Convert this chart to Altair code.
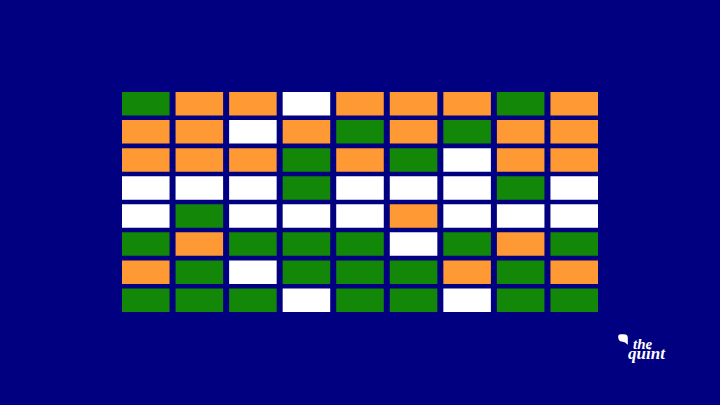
import altair as alt
import pandas as pd

# Grid of colours, row by row (top to bottom), 9 columns each
rows = [
    "G O O W O O O G O",
    "O O W O G O G O O",
    "O O O G O G W O O",
    "W W W G W W W G W",
    "W G W W W O W W W",
    "G O G G G W G O G",
    "O G W G G G O G O",
    "G G G W G G W G G",
]
colour_names = {"G": "green", "O": "saffron", "W": "white"}
colour_hex = ["#138808", "#FF9933", "#FFFFFF"]
colour_domain = ["green", "saffron", "white"]
logo_top = ["the"]
logo_bottom = ["quint"]

records = []
for r, line in enumerate(rows):
    for c, code in enumerate(line.split()):
        records.append({"row": r, "col": c, "colour": colour_names[code]})
df = pd.DataFrame(records)

BG = "#000080"

grid = alt.Chart(df).mark_rect(stroke=None).encode(
    x=alt.X("col:O", axis=None,
            scale=alt.Scale(paddingInner=0.112, paddingOuter=0, round=False)),
    y=alt.Y("row:O", axis=None,
            scale=alt.Scale(paddingInner=0.162, paddingOuter=0, round=False)),
    color=alt.Color("colour:N", legend=None,
                    scale=alt.Scale(domain=colour_domain, range=colour_hex)),
)

txt_style = dict(font="Liberation Serif", fontStyle="italic", fontWeight="bold",
                 color="white", align="left", baseline="alphabetic")
the_txt = alt.Chart(pd.DataFrame({"t": logo_top})).mark_text(
    fontSize=15, **txt_style).encode(
    text="t:N", x=alt.value(511), y=alt.value(257))
quint_txt = alt.Chart(pd.DataFrame({"t": logo_bottom})).mark_text(
    fontSize=17, **txt_style).encode(
    text="t:N", x=alt.value(506), y=alt.value(267))
icon = alt.Chart(pd.DataFrame({"k": [1]})).mark_point(
    shape="M -0.9 -0.6 C -0.9 -1 -0.5 -1 0 -1 C 0.6 -1 0.9 -0.9 0.9 -0.3 L 0.9 1 L 0.3 0.5 C -0.4 0.5 -0.9 0.3 -0.9 -0.6 Z",
    filled=True, color="white", opacity=1, size=115, strokeWidth=0
).encode(x=alt.value(501), y=alt.value(247.5))

chart = alt.layer(grid, the_txt, quint_txt, icon).properties(
    width=476, height=220,
    padding={"left": 122, "top": 92, "right": 122, "bottom": 93},
    autosize=alt.AutoSizeParams(type="none"),
    background=BG,
).configure_view(stroke=None)

chart.save("out.html", embed_options={
    "renderer": "svg", "actions": False,
    "defaultStyle": "body{margin:0;background:#000080;overflow:hidden}",
})
